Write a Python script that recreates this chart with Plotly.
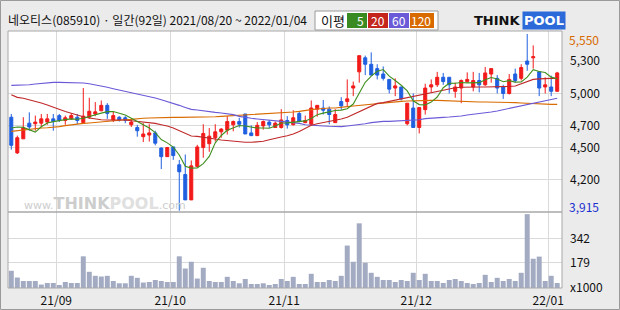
import plotly.graph_objects as go

# ---------------- data ----------------
title_text = "네오티스(085910) · 일간(92일) 2021/08/20 ~ 2022/01/04"
month_labels = ["21/09", "21/10", "21/11", "21/12", "22/01"]
month_start_idx = [8, 27, 46, 68, 90]
price_tick_vals = [5300, 5000, 4700, 4500, 4200]
price_tick_text = ["5,300", "5,000", "4,700", "4,500", "4,200"]
vol_tick_vals = [0, 179, 342]
vol_tick_text = ["x1000", "179", "342"]
price_max, price_max_label = 5550, "5,550"
price_min, price_min_label = 3915, "3,915"
ma_names = ["5", "20", "60", "120"]

open_ = [4780, 4450, 4580, 4725, 4720, 4725, 4735, 4765, 4795, 4750,
         4765, 4780, 4730, 4780, 4810, 4840, 4890, 4755, 4780, 4775,
         4710, 4685, 4600, 4615, 4635, 4495, 4415, 4505, 4340, 4250,
         4015, 4325, 4500, 4535, 4590, 4645, 4660, 4710, 4740, 4810,
         4635, 4610, 4700, 4735, 4685, 4685, 4750, 4710, 4815, 4730,
         4715, 4855, 4865, 4855, 4730, 4925, 4925, 5050, 5200, 5330,
         5270, 5230, 5180, 5130, 5050, 5060, 4720, 4865, 4685, 4850,
         5060, 5080, 5150, 5150, 5020, 5050, 5110, 5060, 5120, 5080,
         5180, 5140, 5060, 5000, 5180, 5140, 5300, 5330, 5200, 5060,
         5060, 5020]
high = [4810, 4610, 4780, 4825, 4795, 4810, 4810, 4810, 4810, 4795,
        4820, 4810, 5050, 4960, 4920, 4935, 4910, 4830, 4790, 4790,
        4755, 4710, 4725, 4715, 4655, 4500, 4505, 4505, 4385, 4435,
        4380, 4525, 4715, 4680, 4715, 4680, 4790, 4750, 4775, 4810,
        4705, 4735, 4750, 4755, 4740, 4855, 4790, 4845, 4830, 4795,
        4935, 4890, 4940, 4880, 4855, 4965, 5130, 5110, 5350, 5350,
        5380, 5270, 5250, 5130, 5140, 5060, 4910, 5000, 4870, 5090,
        5130, 5200, 5190, 5150, 5100, 5130, 5195, 5200, 5190, 5245,
        5230, 5170, 5080, 5180, 5230, 5270, 5550, 5445, 5200, 5150,
        5165, 5200]
low = [4480, 4440, 4580, 4655, 4655, 4690, 4710, 4655, 4735, 4710,
       4755, 4715, 4730, 4765, 4790, 4835, 4765, 4735, 4740, 4725,
       4690, 4600, 4550, 4555, 4520, 4300, 4415, 4385, 3915, 4015,
       4015, 4315, 4405, 4460, 4555, 4590, 4620, 4650, 4685, 4625,
       4605, 4605, 4665, 4680, 4680, 4675, 4675, 4705, 4735, 4725,
       4705, 4785, 4805, 4715, 4730, 4850, 4880, 4975, 5100, 5170,
       5170, 5130, 5120, 5000, 4975, 4935, 4705, 4685, 4630, 4805,
       5010, 5060, 5080, 5000, 4960, 4910, 5100, 5020, 5010, 5070,
       5100, 5000, 4950, 4990, 5100, 5120, 5210, 5230, 4975, 5000,
       4975, 5020]
close = [4520, 4590, 4680, 4690, 4735, 4765, 4765, 4740, 4750, 4775,
         4795, 4750, 4790, 4835, 4830, 4890, 4815, 4795, 4755, 4750,
         4735, 4655, 4625, 4635, 4540, 4415, 4500, 4425, 4275, 4015,
         4330, 4505, 4630, 4605, 4645, 4670, 4740, 4740, 4715, 4625,
         4610, 4705, 4740, 4710, 4725, 4755, 4710, 4775, 4740, 4750,
         4865, 4890, 4845, 4805, 4805, 4885, 4950, 5070, 5350, 5270,
         5170, 5170, 5140, 5040, 5070, 4950, 4910, 4685, 4870, 5050,
         5080, 5150, 5110, 5080, 5060, 5120, 5130, 5120, 5080, 5190,
         5230, 5050, 5000, 5130, 5120, 5240, 5270, 5340, 5050, 5080,
         5020, 5190]
volume = [120, 73, 49, 49, 49, 24, 35, 35, 21, 42,
          35, 35, 221, 113, 85, 80, 85, 49, 33, 33,
          85, 71, 38, 42, 56, 49, 42, 42, 221, 136,
          183, 66, 141, 49, 42, 42, 78, 49, 33, 63,
          28, 28, 33, 21, 28, 63, 49, 78, 28, 28,
          99, 42, 42, 56, 49, 85, 296, 183, 451, 176,
          106, 78, 56, 56, 42, 56, 49, 106, 56, 99,
          49, 49, 35, 56, 63, 49, 35, 28, 35, 92,
          42, 71, 49, 63, 49, 106, 515, 204, 219, 49,
          85, 35]
ma5 = [4680, 4690, 4686, 4665, 4643, 4692, 4727, 4739, 4751, 4758,
       4765, 4762, 4771, 4789, 4800, 4818, 4832, 4833, 4817, 4801,
       4770, 4738, 4704, 4680, 4638, 4574, 4543, 4503, 4431, 4326,
       4309, 4310, 4351, 4418, 4543, 4611, 4659, 4681, 4703, 4699,
       4687, 4680, 4680, 4678, 4698, 4727, 4728, 4734, 4741, 4746,
       4768, 4804, 4818, 4831, 4842, 4846, 4858, 4902, 5010, 5103,
       5160, 5205, 5221, 5160, 5120, 5076, 5023, 4932, 4897, 4894,
       4920, 4967, 5053, 5093, 5095, 5102, 5098, 5100, 5100, 5127,
       5148, 5133, 5108, 5119, 5105, 5107, 5151, 5220, 5203, 5194,
       5151, 5135]
ma20 = [4989, 4964, 4955, 4942, 4927, 4912, 4893, 4871, 4853, 4834,
        4816, 4797, 4785, 4773, 4764, 4757, 4754, 4754, 4757, 4754,
        4748, 4742, 4739, 4736, 4723, 4711, 4699, 4680, 4655, 4625,
        4606, 4603, 4597, 4588, 4578, 4569, 4563, 4557, 4551, 4548,
        4548, 4551, 4557, 4572, 4588, 4597, 4609, 4625, 4649, 4680,
        4705, 4720, 4730, 4739, 4748, 4764, 4779, 4804, 4828, 4856,
        4881, 4908, 4915, 4927, 4939, 4952, 4964, 4973, 4982, 4998,
        5010, 5023, 5035, 5044, 5053, 5057, 5060, 5060, 5060, 5060,
        5060, 5060, 5063, 5066, 5069, 5087, 5112, 5130, 5135, 5140,
        5140, 5140]
ma60 = [5075, 5075, 5078, 5081, 5087, 5094, 5100, 5103, 5103, 5103,
        5103, 5100, 5097, 5090, 5081, 5069, 5057, 5044, 5032, 5020,
        5007, 4998, 4989, 4973, 4958, 4942, 4927, 4908, 4890, 4871,
        4853, 4847, 4838, 4831, 4825, 4819, 4813, 4804, 4788, 4776,
        4770, 4764, 4757, 4751, 4745, 4742, 4736, 4730, 4723, 4711,
        4705, 4702, 4699, 4696, 4693, 4693, 4699, 4705, 4711, 4720,
        4730, 4739, 4742, 4742, 4745, 4745, 4748, 4751, 4757, 4767,
        4773, 4776, 4779, 4782, 4785, 4791, 4801, 4807, 4813, 4819,
        4828, 4838, 4850, 4862, 4875, 4884, 4896, 4908, 4921, 4933,
        4945, 4955]
ma120 = [4649, 4656, 4662, 4668, 4674, 4680, 4683, 4686, 4693, 4702,
         4711, 4717, 4723, 4727, 4733, 4739, 4745, 4751, 4754, 4757,
         4760, 4767, 4770, 4773, 4776, 4779, 4779, 4779, 4779, 4779,
         4779, 4779, 4782, 4782, 4785, 4788, 4791, 4797, 4797, 4801,
         4804, 4804, 4810, 4813, 4816, 4822, 4825, 4828, 4834, 4844,
         4850, 4856, 4862, 4865, 4865, 4868, 4878, 4884, 4890, 4896,
         4902, 4908, 4915, 4921, 4924, 4927, 4930, 4933, 4933, 4936,
         4936, 4936, 4933, 4930, 4927, 4924, 4921, 4921, 4921, 4921,
         4921, 4921, 4921, 4918, 4915, 4912, 4908, 4908, 4902, 4899,
         4899, 4899]

# ---------------- styling ----------------
W, H = 620, 310
ML, MR, MT, MB = 8, 58, 31, 22
PW, PH = W - ML - MR, H - MT - MB
VOL_H = 76
RED, BLUE = "#f21a1a", "#1f5fe0"
MA_COLORS = ["#3f8f1f", "#c0282a", "#6a5ad8", "#d96b00"]
BOX_COLORS = ["#3a8a22", "#c4261e", "#6a5ad8", "#d86a00"]
FONT = "Noto Sans CJK KR, sans-serif"
GRID = "#dadada"
BORDER = "#a8a8a8"


def px2x(px):
    return (px - ML) / PW


def py2y(py):
    return (MT + PH - py) / PH


idx = list(range(len(close)))
fig = go.Figure()

for vals, col in zip([ma120, ma60, ma20, ma5], MA_COLORS[::-1]):
    fig.add_trace(go.Scatter(x=idx, y=vals, mode="lines", xaxis="x", yaxis="y",
                             line=dict(color=col, width=1.1), hoverinfo="skip",
                             showlegend=False))

fig.add_trace(go.Candlestick(
    x=idx, open=open_, high=high, low=low, close=close, xaxis="x", yaxis="y",
    increasing=dict(line=dict(color=RED, width=1), fillcolor=RED),
    decreasing=dict(line=dict(color=BLUE, width=1), fillcolor=BLUE),
    whiskerwidth=0, showlegend=False, hoverinfo="skip"))

fig.add_trace(go.Bar(x=idx, y=volume, xaxis="x", yaxis="y2",
                     marker=dict(color="#a3abc3", line=dict(width=0)),
                     showlegend=False, hoverinfo="skip"))

vol_frac = VOL_H / PH
fig.update_layout(
    width=W, height=H, margin=dict(l=ML, r=MR, t=MT, b=MB),
    paper_bgcolor="#ebebeb", plot_bgcolor="#ffffff",
    font=dict(family=FONT, size=12, color="#111111"),
    bargap=0.17, boxgap=0.28,
    xaxis=dict(domain=[0, 1], anchor="y2", range=[-0.55, 91.8],
               tickvals=[m - 0.5 for m in month_start_idx], ticktext=month_labels,
               showgrid=True, gridcolor=GRID, gridwidth=1, zeroline=False,
               ticks="", showline=False, rangeslider=dict(visible=False),
               tickfont=dict(size=12), ticklabelstandoff=4, automargin=False),
    yaxis=dict(domain=[vol_frac, 1], anchor="x", side="right",
               range=[3903, 5578], tickvals=price_tick_vals, ticktext=price_tick_text,
               showgrid=True, gridcolor=GRID, gridwidth=1, zeroline=False,
               ticks="", ticklabelstandoff=7, tickfont=dict(size=12), automargin=False),
    yaxis2=dict(domain=[0, vol_frac], anchor="x", side="right",
                range=[0, 530], tickvals=vol_tick_vals, ticktext=vol_tick_text,
                showgrid=True, gridcolor=GRID, gridwidth=1, zeroline=False,
                ticks="", ticklabelstandoff=7, tickfont=dict(size=12), automargin=False),
)

shapes = [
    dict(type="rect", xref="x domain", yref="y domain", x0=0, x1=1, y0=0, y1=1,
         line=dict(color=BORDER, width=1), fillcolor="rgba(0,0,0,0)", layer="above"),
    dict(type="rect", xref="x domain", yref="y2 domain", x0=0, x1=1, y0=0, y1=1,
         line=dict(color=BORDER, width=1), fillcolor="rgba(0,0,0,0)", layer="above"),
    # outer frame
    dict(type="rect", xref="paper", yref="paper", x0=px2x(0.5), x1=px2x(619.5),
         y0=py2y(309.5), y1=py2y(0.5), line=dict(color="#9a9a9a", width=1),
         fillcolor="rgba(0,0,0,0)", layer="above"),
    # MA legend box
    dict(type="rect", xref="paper", yref="paper", x0=px2x(315), x1=px2x(438),
         y0=py2y(30), y1=py2y(11), line=dict(color="#9a9a9a", width=1),
         fillcolor="#ffffff"),
]
box_x = [(347, 367), (368, 388), (389, 409), (410, 434)]
annotations = []
for (x0, x1), col, name in zip(box_x, BOX_COLORS, ma_names):
    shapes.append(dict(type="rect", xref="paper", yref="paper", x0=px2x(x0), x1=px2x(x1),
                       y0=py2y(28), y1=py2y(13), line=dict(width=0), fillcolor=col))
    annotations.append(dict(xref="paper", yref="paper", x=px2x(x1 - 1), y=py2y(20.5),
                            xanchor="right", yanchor="middle", text=name, showarrow=False,
                            font=dict(color="#ffffff", size=12, family=FONT)))
annotations += [
    dict(xref="paper", yref="paper", x=px2x(319), y=py2y(20.5), xanchor="left",
         yanchor="middle", text="이평", showarrow=False, font=dict(size=13, color="#111")),
    dict(xref="paper", yref="paper", x=px2x(6), y=py2y(20), xanchor="left",
         yanchor="middle", text=title_text, showarrow=False,
         font=dict(size=12, color="#111")),
    dict(xref="paper", yref="y", x=1, y=price_max, xanchor="left", yanchor="middle",
         xshift=5, yshift=-5, text=price_max_label, showarrow=False,
         font=dict(size=12, color="#d86a00")),
    dict(xref="paper", yref="y", x=1, y=price_min, xanchor="left", yanchor="middle",
         xshift=5, yshift=4, text=price_min_label, showarrow=False,
         font=dict(size=12, color="#1a2fd0")),
    # watermark
    dict(xref="paper", yref="paper", x=px2x(22), y=py2y(203), xanchor="left",
         yanchor="middle", showarrow=False,
         text="<span style='font-size:11px'>www.</span><b>THINK</b>"
              "<b><span style='color:#e0e0e0'>POOL</span></b>"
              "<span style='font-size:11px'>.com</span>",
         font=dict(size=16, color="#cdcdcd", family="DejaVu Sans")),
    # logo
    dict(xref="paper", yref="paper", x=px2x(522), y=py2y(21), xanchor="right",
         yanchor="middle", showarrow=False, text="<b>THINK</b>",
         font=dict(size=13, color="#111111", family="DejaVu Sans")),
    dict(xref="paper", yref="paper", x=px2x(522), y=py2y(21), xanchor="left",
         yanchor="middle", showarrow=False, text="<b>POOL</b>", bgcolor="#2b6ad8",
         borderpad=1, font=dict(size=13, color="#ffffff", family="DejaVu Sans")),
]
fig.update_layout(shapes=shapes, annotations=annotations)

fig.write_html("out.html")
